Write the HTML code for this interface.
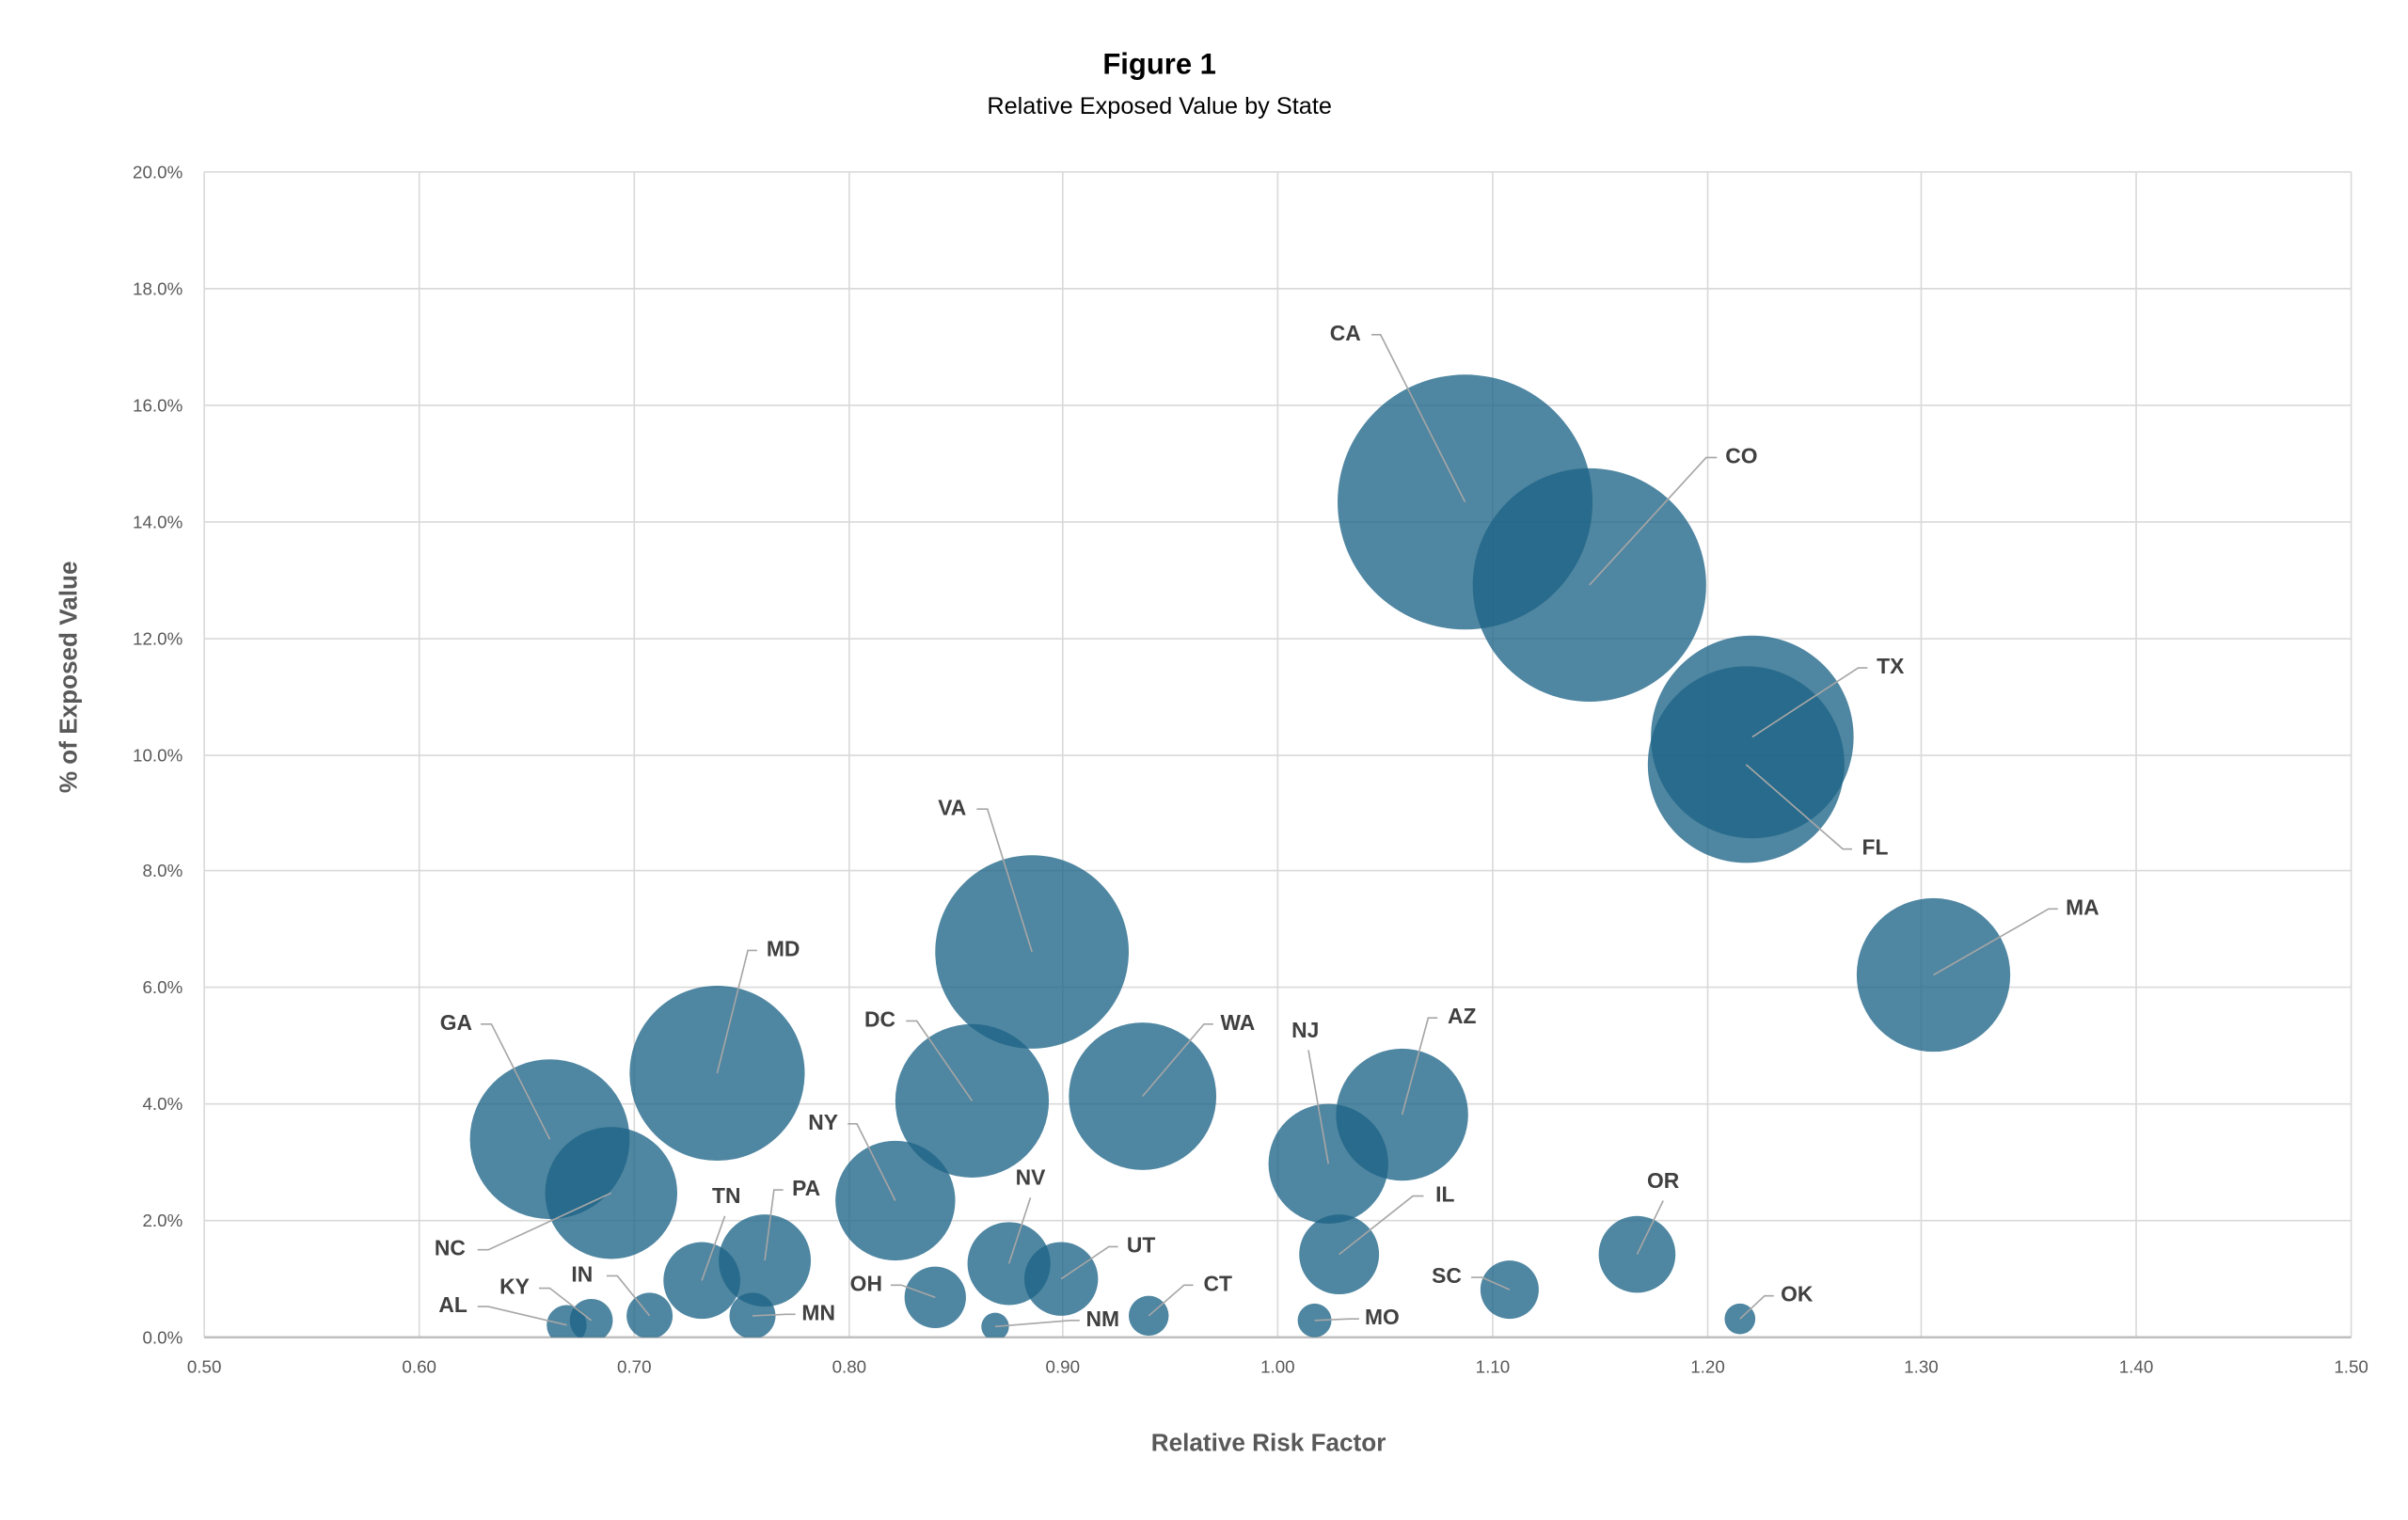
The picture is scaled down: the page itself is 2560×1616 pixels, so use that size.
<!DOCTYPE html>
<html><head><meta charset="utf-8"><style>
html,body{margin:0;padding:0;background:#fff;}
svg{display:block;}
text{font-family:"Liberation Sans",sans-serif;}
.lb{font-weight:bold;font-size:14px;fill:#404040;dominant-baseline:middle;}
.tk{font-size:11.5px;fill:#595959;}
.ld{stroke:#a6a6a6;stroke-width:1;fill:none;}
.b{fill:#1e6486;fill-opacity:0.78;}
</style></head><body>
<svg width="2560" height="1616" viewBox="0 0 1568 990" preserveAspectRatio="none" xmlns="http://www.w3.org/2000/svg">
<text x="755" y="48" text-anchor="middle" style="font-weight:bold;font-size:19px;fill:#000">Figure 1</text>
<text x="755" y="74" text-anchor="middle" style="font-size:15.5px;fill:#000">Relative Exposed Value by State</text>
<g stroke="#d9d9d9" stroke-width="1">
<line x1="133" y1="112" x2="1531" y2="112"/><line x1="133" y1="188" x2="1531" y2="188"/><line x1="133" y1="264" x2="1531" y2="264"/><line x1="133" y1="340" x2="1531" y2="340"/><line x1="133" y1="416" x2="1531" y2="416"/><line x1="133" y1="492" x2="1531" y2="492"/><line x1="133" y1="567" x2="1531" y2="567"/><line x1="133" y1="643" x2="1531" y2="643"/><line x1="133" y1="719" x2="1531" y2="719"/><line x1="133" y1="795" x2="1531" y2="795"/>
<line x1="273" y1="112" x2="273" y2="871"/><line x1="413" y1="112" x2="413" y2="871"/><line x1="553" y1="112" x2="553" y2="871"/><line x1="692" y1="112" x2="692" y2="871"/><line x1="832" y1="112" x2="832" y2="871"/><line x1="972" y1="112" x2="972" y2="871"/><line x1="1112" y1="112" x2="1112" y2="871"/><line x1="1251" y1="112" x2="1251" y2="871"/><line x1="1391" y1="112" x2="1391" y2="871"/><line x1="1531" y1="112" x2="1531" y2="871"/>
<line x1="133" y1="112" x2="133" y2="871"/>
</g>
<line x1="133" y1="871" x2="1531" y2="871" stroke="#bfbfbf" stroke-width="1.5"/>
<g class="tk" text-anchor="end">
<text x="119" y="116">20.0%</text><text x="119" y="192">18.0%</text><text x="119" y="268">16.0%</text><text x="119" y="344">14.0%</text><text x="119" y="420">12.0%</text><text x="119" y="496">10.0%</text><text x="119" y="571">8.0%</text><text x="119" y="647">6.0%</text><text x="119" y="723">4.0%</text><text x="119" y="799">2.0%</text><text x="119" y="875">0.0%</text>
</g>
<g class="tk" text-anchor="middle">
<text x="133" y="894">0.50</text><text x="273" y="894">0.60</text><text x="413" y="894">0.70</text><text x="553" y="894">0.80</text><text x="692" y="894">0.90</text><text x="832" y="894">1.00</text><text x="972" y="894">1.10</text><text x="1112" y="894">1.20</text><text x="1251" y="894">1.30</text><text x="1391" y="894">1.40</text><text x="1531" y="894">1.50</text>
</g>
<text x="826" y="945" text-anchor="middle" style="font-weight:bold;font-size:16px;fill:#595959">Relative Risk Factor</text>
<text transform="translate(50,441) rotate(-90)" text-anchor="middle" style="font-weight:bold;font-size:16px;fill:#595959">% of Exposed Value</text>
<svg x="0" y="0" width="1568" height="871" overflow="hidden" viewBox="0 0 1568 871">
<circle class="b" cx="954" cy="327" r="83"/>
<circle class="b" cx="1035" cy="381" r="76"/>
<circle class="b" cx="1141" cy="480" r="66"/>
<circle class="b" cx="1137" cy="498" r="64"/>
<circle class="b" cx="1259" cy="635" r="50"/>
<circle class="b" cx="672" cy="620" r="63"/>
<circle class="b" cx="467" cy="699" r="57"/>
<circle class="b" cx="358" cy="742" r="52"/>
<circle class="b" cx="398" cy="777" r="43"/>
<circle class="b" cx="633" cy="717" r="50"/>
<circle class="b" cx="744" cy="714" r="48"/>
<circle class="b" cx="583" cy="782" r="39"/>
<circle class="b" cx="865" cy="758" r="39"/>
<circle class="b" cx="913" cy="726" r="43"/>
<circle class="b" cx="872" cy="817" r="26"/>
<circle class="b" cx="1066" cy="817" r="25"/>
<circle class="b" cx="983" cy="840" r="19"/>
<circle class="b" cx="1133" cy="859" r="10"/>
<circle class="b" cx="856" cy="860" r="11"/>
<circle class="b" cx="748" cy="857" r="13"/>
<circle class="b" cx="648" cy="864" r="9"/>
<circle class="b" cx="691" cy="833" r="24"/>
<circle class="b" cx="657" cy="823" r="27"/>
<circle class="b" cx="609" cy="845" r="20"/>
<circle class="b" cx="490" cy="857" r="15"/>
<circle class="b" cx="498" cy="821" r="30"/>
<circle class="b" cx="457" cy="834" r="25"/>
<circle class="b" cx="423" cy="857" r="15"/>
<circle class="b" cx="385" cy="860" r="14"/>
<circle class="b" cx="369" cy="863" r="13"/>
</svg>
<g class="ld">
<polyline points="893,218 899,218 954,327"/>
<polyline points="1118,298 1111,298 1035,381"/>
<polyline points="1216,435 1210,435 1141,480"/>
<polyline points="1206,553 1200,553 1137,498"/>
<polyline points="1340,592 1334,592 1259,635"/>
<polyline points="636,527 643,527 672,620"/>
<polyline points="493,619 487,619 467,699"/>
<polyline points="313,667 320,667 358,742"/>
<polyline points="311,814 318,814 398,777"/>
<polyline points="590,665 597,665 633,717"/>
<polyline points="790,667 784,667 744,714"/>
<polyline points="552,732 558,732 583,782"/>
<polyline points="852,684 865,758"/>
<polyline points="936,663 930,663 913,726"/>
<polyline points="927,779 920,779 872,817"/>
<polyline points="1083,782 1066,817"/>
<polyline points="958,832 965,832 983,840"/>
<polyline points="1155,844 1149,844 1133,859"/>
<polyline points="885,859 879,859 856,860"/>
<polyline points="777,837 771,837 748,857"/>
<polyline points="703,860 697,860 648,864"/>
<polyline points="728,812 722,812 691,833"/>
<polyline points="671,780 657,823"/>
<polyline points="580,837 587,837 609,845"/>
<polyline points="518,856 512,856 490,857"/>
<polyline points="510,775 504,775 498,821"/>
<polyline points="472,792 457,834"/>
<polyline points="395,831 402,831 423,857"/>
<polyline points="351,839 358,839 385,860"/>
<polyline points="311,851 318,851 369,863"/>
</g>
<g class="lb">
<text x="876" y="218" text-anchor="middle">CA</text>
<text x="1134" y="298" text-anchor="middle">CO</text>
<text x="1231" y="435" text-anchor="middle">TX</text>
<text x="1221" y="553" text-anchor="middle">FL</text>
<text x="1356" y="592" text-anchor="middle">MA</text>
<text x="620" y="527" text-anchor="middle">VA</text>
<text x="510" y="619" text-anchor="middle">MD</text>
<text x="297" y="667" text-anchor="middle">GA</text>
<text x="293" y="814" text-anchor="middle">NC</text>
<text x="573" y="665" text-anchor="middle">DC</text>
<text x="806" y="667" text-anchor="middle">WA</text>
<text x="536" y="732" text-anchor="middle">NY</text>
<text x="850" y="672" text-anchor="middle">NJ</text>
<text x="952" y="663" text-anchor="middle">AZ</text>
<text x="941" y="779" text-anchor="middle">IL</text>
<text x="1083" y="770" text-anchor="middle">OR</text>
<text x="942" y="832" text-anchor="middle">SC</text>
<text x="1170" y="844" text-anchor="middle">OK</text>
<text x="900" y="859" text-anchor="middle">MO</text>
<text x="793" y="837" text-anchor="middle">CT</text>
<text x="718" y="860" text-anchor="middle">NM</text>
<text x="743" y="812" text-anchor="middle">UT</text>
<text x="671" y="768" text-anchor="middle">NV</text>
<text x="564" y="837" text-anchor="middle">OH</text>
<text x="533" y="856" text-anchor="middle">MN</text>
<text x="525" y="775" text-anchor="middle">PA</text>
<text x="473" y="780" text-anchor="middle">TN</text>
<text x="379" y="831" text-anchor="middle">IN</text>
<text x="335" y="839" text-anchor="middle">KY</text>
<text x="295" y="851" text-anchor="middle">AL</text>
</g>
</svg>
</body></html>
